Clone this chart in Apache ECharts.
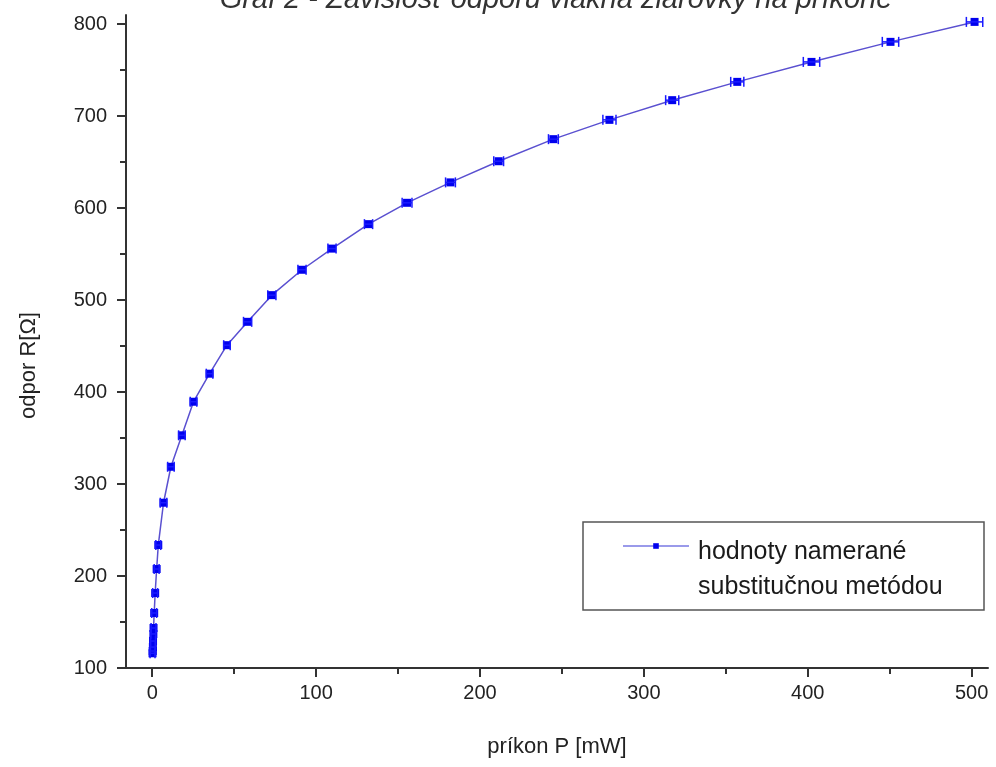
<!DOCTYPE html>
<html><head><meta charset="utf-8">
<script src="https://cdn.jsdelivr.net/npm/echarts@6/dist/echarts.min.js"></script>
<style>html,body{margin:0;padding:0;background:#fff}#c{width:996px;height:767px}</style>
</head><body><div id="c"></div>
<script>
const chartTitle = 'Graf 2 - Závislosť odporu vlákna žiarovky na príkone';
const seriesName = 'hodnoty namerané\nsubstitučnou metódou';
const xAxisName = 'príkon P [mW]';
const yAxisName = 'odpor R[Ω]';
const xTicks = [0, 100, 200, 300, 400, 500];
const xMinorTicks = [50, 150, 250, 350, 450];
const yTicks = [100, 200, 300, 400, 500, 600, 700, 800];
const yMinorTicks = [150, 250, 350, 450, 550, 650, 750];
const power = [0.2, 0.3, 0.4, 0.5, 0.7, 0.8, 1.2, 1.8, 2.7, 3.7, 6.9, 11.4, 18.1, 25.2, 35.0, 45.6, 58.2, 73.0, 91.4, 109.7, 132.0, 155.5, 182.0, 211.4, 244.8, 279.0, 317.3, 357.0, 402.3, 450.5, 501.8];
const resistance = [116, 118.5, 122.8, 129.3, 137, 143.5, 159.8, 181.5, 207.6, 233.7, 279.7, 318.8, 353, 389.5, 420, 451, 476.4, 505.4, 533, 556, 582.6, 605.8, 628, 651, 675, 696, 717.4, 737.3, 759, 780.8, 802.5];
const powerErr = [1.5, 1.5, 1.5, 1.5, 1.5, 1.5, 1.5, 1.5, 1.5, 1.5, 2, 2, 2, 2, 2, 2, 2.5, 2.5, 2.5, 2.5, 2.5, 3, 3, 3, 3, 4, 4, 4, 5, 5, 5];

const FONT = 'Liberation Sans, Arial, sans-serif';
const chart = echarts.init(document.getElementById('c'), null, {renderer: 'canvas'});
const lineData = power.map((p, i) => [p, resistance[i]]);
const errData = power.map((p, i) => [p, resistance[i], powerErr[i]]);
const axisColor = '#333';

chart.setOption({
  backgroundColor: '#fff',
  animation: false,
  grid: {left: 126, right: 8, top: 15, bottom: 99},
  graphic: [
    {type: 'text', x: 556, y: 0, style: {text: chartTitle, font: 'italic 29px ' + FONT, fill: '#333', textAlign: 'center', textVerticalAlign: 'middle'}},
    {type: 'rect', shape: {x: 583, y: 522, width: 401, height: 88}, style: {fill: 'none', stroke: '#555', lineWidth: 1.5}, z: 10}
  ],
  legend: {
    data: [seriesName],
    left: 622, top: 510,
    padding: 0,
    itemWidth: 66, itemHeight: 7,
    lineStyle: {color: '#9a9aea', width: 2},
    itemStyle: {color: '#0000ee'},
    formatter: function (name) {
      return '{t| }\n' + name.split('\n').map(s => '{a|' + s + '}').join('\n');
    },
    textStyle: {
      padding: [0, 0, 0, 4],
      rich: {
        t: {fontSize: 2, lineHeight: 47},
        a: {fontFamily: FONT, fontSize: 25, color: '#1a1a1a', lineHeight: 35}
      }
    },
    selectedMode: false
  },
  xAxis: [
    {
      type: 'value', min: -16, max: 510, position: 'bottom',
      name: xAxisName, nameLocation: 'middle', nameGap: 68,
      nameTextStyle: {fontFamily: FONT, fontSize: 22, color: '#222'},
      axisLine: {show: true, onZero: false, lineStyle: {color: axisColor, width: 2}},
      axisTick: {show: true, customValues: xTicks, length: 9, lineStyle: {color: axisColor, width: 2}},
      axisLabel: {customValues: xTicks, fontFamily: FONT, fontSize: 20, color: '#222', margin: 15},
      splitLine: {show: false}
    },
    {
      type: 'value', min: -16, max: 510, position: 'bottom',
      axisLine: {show: false, onZero: false},
      axisTick: {show: true, customValues: xMinorTicks, length: 6, lineStyle: {color: axisColor, width: 2}},
      axisLabel: {show: false},
      splitLine: {show: false}
    }
  ],
  yAxis: [
    {
      type: 'value', min: 100, max: 810, position: 'left',
      name: yAxisName, nameLocation: 'middle', nameGap: 86, nameRotate: 90,
      nameTextStyle: {fontFamily: FONT, fontSize: 22, color: '#222', padding: [0, 48, 0, 0]},
      axisLine: {show: true, onZero: false, lineStyle: {color: axisColor, width: 2}},
      axisTick: {show: true, customValues: yTicks, length: 9, lineStyle: {color: axisColor, width: 2}},
      axisLabel: {customValues: yTicks, fontFamily: FONT, fontSize: 20, color: '#222', margin: 19},
      splitLine: {show: false}
    },
    {
      type: 'value', min: 100, max: 810, position: 'left',
      axisLine: {show: false, onZero: false},
      axisTick: {show: true, customValues: yMinorTicks, length: 6, lineStyle: {color: axisColor, width: 2}},
      axisLabel: {show: false},
      splitLine: {show: false}
    }
  ],
  series: [
    {
      name: seriesName, type: 'line', xAxisIndex: 0, yAxisIndex: 0,
      data: lineData,
      symbol: 'rect', symbolSize: 8,
      itemStyle: {color: '#0000ee'},
      lineStyle: {color: '#5a50d0', width: 1.5},
      z: 3
    },
    {
      type: 'custom', xAxisIndex: 0, yAxisIndex: 0,
      data: errData,
      encode: {x: 0, y: 1},
      z: 4,
      renderItem: function (params, api) {
        const x = api.value(0), y = api.value(1), e = api.value(2);
        const p1 = api.coord([x - e, y]), p2 = api.coord([x + e, y]);
        const h = 5;
        const st = {stroke: '#1a1aff', lineWidth: 1.5};
        return {type: 'group', children: [
          {type: 'line', shape: {x1: p1[0], y1: p1[1], x2: p2[0], y2: p2[1]}, style: st},
          {type: 'line', shape: {x1: p1[0], y1: p1[1] - h, x2: p1[0], y2: p1[1] + h}, style: st},
          {type: 'line', shape: {x1: p2[0], y1: p2[1] - h, x2: p2[0], y2: p2[1] + h}, style: st}
        ]};
      }
    }
  ]
});
</script>
</body></html>
